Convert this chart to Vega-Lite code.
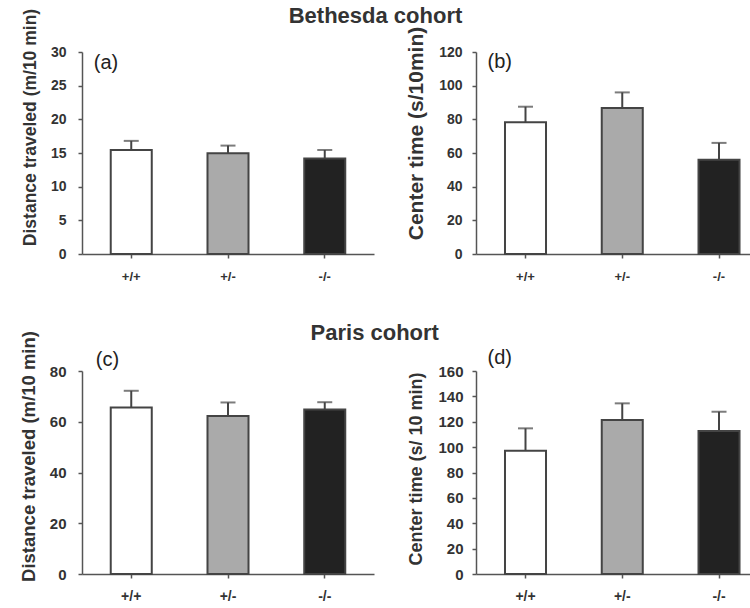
{
  "$schema": "https://vega.github.io/schema/vega-lite/v6.json",
  "datasets": {
    "bars": [
      {"panel": "a", "label": "(a)", "genotype": "+/+", "mean": 15.45, "upper": 16.8},
      {"panel": "a", "label": "(a)", "genotype": "+/-", "mean": 14.95, "upper": 16.1},
      {"panel": "a", "label": "(a)", "genotype": "-/-", "mean": 14.2, "upper": 15.45},
      {"panel": "b", "label": "(b)", "genotype": "+/+", "mean": 78.2, "upper": 87.5},
      {"panel": "b", "label": "(b)", "genotype": "+/-", "mean": 86.7, "upper": 96},
      {"panel": "b", "label": "(b)", "genotype": "-/-", "mean": 56, "upper": 66},
      {"panel": "c", "label": "(c)", "genotype": "+/+", "mean": 65.6, "upper": 72.2},
      {"panel": "c", "label": "(c)", "genotype": "+/-", "mean": 62.3, "upper": 67.6},
      {"panel": "c", "label": "(c)", "genotype": "-/-", "mean": 64.8, "upper": 67.7},
      {"panel": "d", "label": "(d)", "genotype": "+/+", "mean": 97.2, "upper": 114.8},
      {"panel": "d", "label": "(d)", "genotype": "+/-", "mean": 121.4, "upper": 134.5},
      {"panel": "d", "label": "(d)", "genotype": "-/-", "mean": 112.7, "upper": 127.9}
    ]
  },
  "autosize": {"type": "pad"},
  "padding": {"left": 19, "top": 5, "right": 0, "bottom": 0},
  "spacing": 38,
  "vconcat": [
    {
      "title": {"text": "Bethesda cohort", "offset": -20, "dx": -12},
      "bounds": "flush",
      "spacing": 102,
      "hconcat": [
        {
          "width": 292, "height": 202,
          "data": {"name": "bars"},
          "transform": [{"filter": "datum.panel == 'a'"}],
          "encoding": {
            "x": {"field": "genotype", "type": "nominal", "sort": ["+/+", "+/-", "-/-"],
              "scale": {"paddingInner": 0.576, "paddingOuter": 0.297, "align": 0.5},
              "axis": {"title": null, "labelAngle": 0, "labelFontSize": 13, "labelPadding": 12}}
          },
          "layer": [
            {"mark": {"type": "bar", "stroke": "#444444", "strokeWidth": 2},
             "encoding": {
               "y": {"field": "mean", "type": "quantitative", "scale": {"domain": [0, 30]},
                 "axis": {"title": "Distance traveled (m/10 min)", "values": [0, 5, 10, 15, 20, 25, 30], "titleFontSize": 17.5, "titleX": -52, "titleY": 75, "labelPadding": 12}},
               "fill": {"field": "genotype", "type": "nominal", "scale": {"domain": ["+/+", "+/-", "-/-"], "range": ["#ffffff", "#aaaaaa", "#222222"]}, "legend": null}
             }},
            {"mark": {"type": "rule", "color": "#444444", "strokeWidth": 2},
             "encoding": {"y": {"field": "mean", "type": "quantitative",
                 "axis": {"title": "Distance traveled (m/10 min)", "values": [0, 5, 10, 15, 20, 25, 30], "titleFontSize": 17.5, "titleX": -52, "titleY": 75, "labelPadding": 12}}, "y2": {"field": "upper"}}},
            {"mark": {"type": "tick", "color": "#444444", "size": 15, "thickness": 2},
             "encoding": {"y": {"field": "upper", "type": "quantitative",
                 "axis": {"title": "Distance traveled (m/10 min)", "values": [0, 5, 10, 15, 20, 25, 30], "titleFontSize": 17.5, "titleX": -52, "titleY": 75, "labelPadding": 12}}}},
            {"transform": [{"filter": "datum.genotype == '+/+'"}],
             "mark": {"type": "text", "align": "left", "baseline": "middle", "dx": -37.5, "fontSize": 20, "font": "Liberation Sans", "color": "#222222"},
             "encoding": {"y": {"datum": 28.4, "type": "quantitative",
                 "axis": {"title": "Distance traveled (m/10 min)", "values": [0, 5, 10, 15, 20, 25, 30], "titleFontSize": 17.5, "titleX": -52, "titleY": 75, "labelPadding": 12}}, "text": {"field": "label"}}}
          ]
        },
        {
          "width": 278, "height": 202,
          "data": {"name": "bars"},
          "transform": [{"filter": "datum.panel == 'b'"}],
          "encoding": {
            "x": {"field": "genotype", "type": "nominal", "sort": ["+/+", "+/-", "-/-"],
              "scale": {"paddingInner": 0.576, "paddingOuter": 0.2246, "align": 0.667},
              "axis": {"title": null, "labelAngle": 0, "labelFontSize": 13, "labelPadding": 12}}
          },
          "layer": [
            {"mark": {"type": "bar", "stroke": "#444444", "strokeWidth": 2},
             "encoding": {
               "y": {"field": "mean", "type": "quantitative", "scale": {"domain": [0, 120]},
                 "axis": {"title": "Center time (s/10min)", "values": [0, 20, 40, 60, 80, 100, 120], "titleFontSize": 21, "titleX": -60, "titleY": 81, "labelPadding": 10}},
               "fill": {"field": "genotype", "type": "nominal", "scale": {"domain": ["+/+", "+/-", "-/-"], "range": ["#ffffff", "#aaaaaa", "#222222"]}, "legend": null}
             }},
            {"mark": {"type": "rule", "color": "#444444", "strokeWidth": 2},
             "encoding": {"y": {"field": "mean", "type": "quantitative",
                 "axis": {"title": "Center time (s/10min)", "values": [0, 20, 40, 60, 80, 100, 120], "titleFontSize": 21, "titleX": -60, "titleY": 81, "labelPadding": 10}}, "y2": {"field": "upper"}}},
            {"mark": {"type": "tick", "color": "#444444", "size": 15, "thickness": 2},
             "encoding": {"y": {"field": "upper", "type": "quantitative",
                 "axis": {"title": "Center time (s/10min)", "values": [0, 20, 40, 60, 80, 100, 120], "titleFontSize": 21, "titleX": -60, "titleY": 81, "labelPadding": 10}}}},
            {"transform": [{"filter": "datum.genotype == '+/+'"}],
             "mark": {"type": "text", "align": "left", "baseline": "middle", "dx": -38, "fontSize": 20, "font": "Liberation Sans", "color": "#222222"},
             "encoding": {"y": {"datum": 113.8, "type": "quantitative",
                 "axis": {"title": "Center time (s/10min)", "values": [0, 20, 40, 60, 80, 100, 120], "titleFontSize": 21, "titleX": -60, "titleY": 81, "labelPadding": 10}}, "text": {"field": "label"}}}
          ]
        }
      ]
    },
    {
      "title": {"text": "Paris cohort", "offset": -14, "dx": -12},
      "bounds": "flush",
      "spacing": 102,
      "hconcat": [
        {
          "width": 292, "height": 203,
          "data": {"name": "bars"},
          "transform": [{"filter": "datum.panel == 'c'"}],
          "encoding": {
            "x": {"field": "genotype", "type": "nominal", "sort": ["+/+", "+/-", "-/-"],
              "scale": {"paddingInner": 0.576, "paddingOuter": 0.297, "align": 0.5},
              "axis": {"title": null, "labelAngle": 0, "labelFontSize": 14, "labelPadding": 11}}
          },
          "layer": [
            {"mark": {"type": "bar", "stroke": "#444444", "strokeWidth": 2},
             "encoding": {
               "y": {"field": "mean", "type": "quantitative", "scale": {"domain": [0, 80]},
                 "axis": {"title": "Distance traveled (m/10 min)", "values": [0, 20, 40, 60, 80], "titleFontSize": 18.5, "titleX": -53.5, "titleY": 85, "labelFontSize": 15, "labelPadding": 12}},
               "fill": {"field": "genotype", "type": "nominal", "scale": {"domain": ["+/+", "+/-", "-/-"], "range": ["#ffffff", "#aaaaaa", "#222222"]}, "legend": null}
             }},
            {"mark": {"type": "rule", "color": "#444444", "strokeWidth": 2},
             "encoding": {"y": {"field": "mean", "type": "quantitative",
                 "axis": {"title": "Distance traveled (m/10 min)", "values": [0, 20, 40, 60, 80], "titleFontSize": 18.5, "titleX": -53.5, "titleY": 85, "labelFontSize": 15, "labelPadding": 12}}, "y2": {"field": "upper"}}},
            {"mark": {"type": "tick", "color": "#444444", "size": 15, "thickness": 2},
             "encoding": {"y": {"field": "upper", "type": "quantitative",
                 "axis": {"title": "Distance traveled (m/10 min)", "values": [0, 20, 40, 60, 80], "titleFontSize": 18.5, "titleX": -53.5, "titleY": 85, "labelFontSize": 15, "labelPadding": 12}}}},
            {"transform": [{"filter": "datum.genotype == '+/+'"}],
             "mark": {"type": "text", "align": "left", "baseline": "middle", "dx": -35.5, "fontSize": 20, "font": "Liberation Sans", "color": "#222222"},
             "encoding": {"y": {"datum": 84.3, "type": "quantitative",
                 "axis": {"title": "Distance traveled (m/10 min)", "values": [0, 20, 40, 60, 80], "titleFontSize": 18.5, "titleX": -53.5, "titleY": 85, "labelFontSize": 15, "labelPadding": 12}}, "text": {"field": "label"}}}
          ]
        },
        {
          "width": 278, "height": 203,
          "data": {"name": "bars"},
          "transform": [{"filter": "datum.panel == 'd'"}],
          "encoding": {
            "x": {"field": "genotype", "type": "nominal", "sort": ["+/+", "+/-", "-/-"],
              "scale": {"paddingInner": 0.576, "paddingOuter": 0.2246, "align": 0.667},
              "axis": {"title": null, "labelAngle": 0, "labelFontSize": 14, "labelPadding": 11}}
          },
          "layer": [
            {"mark": {"type": "bar", "stroke": "#444444", "strokeWidth": 2},
             "encoding": {
               "y": {"field": "mean", "type": "quantitative", "scale": {"domain": [0, 160]},
                 "axis": {"title": "Center time (s/ 10 min)", "values": [0, 20, 40, 60, 80, 100, 120, 140, 160], "titleFontSize": 18, "titleX": -60, "titleY": 97.5, "labelFontSize": 15, "labelPadding": 9}},
               "fill": {"field": "genotype", "type": "nominal", "scale": {"domain": ["+/+", "+/-", "-/-"], "range": ["#ffffff", "#aaaaaa", "#222222"]}, "legend": null}
             }},
            {"mark": {"type": "rule", "color": "#444444", "strokeWidth": 2},
             "encoding": {"y": {"field": "mean", "type": "quantitative",
                 "axis": {"title": "Center time (s/ 10 min)", "values": [0, 20, 40, 60, 80, 100, 120, 140, 160], "titleFontSize": 18, "titleX": -60, "titleY": 97.5, "labelFontSize": 15, "labelPadding": 9}}, "y2": {"field": "upper"}}},
            {"mark": {"type": "tick", "color": "#444444", "size": 15, "thickness": 2},
             "encoding": {"y": {"field": "upper", "type": "quantitative",
                 "axis": {"title": "Center time (s/ 10 min)", "values": [0, 20, 40, 60, 80, 100, 120, 140, 160], "titleFontSize": 18, "titleX": -60, "titleY": 97.5, "labelFontSize": 15, "labelPadding": 9}}}},
            {"transform": [{"filter": "datum.genotype == '+/+'"}],
             "mark": {"type": "text", "align": "left", "baseline": "middle", "dx": -38, "fontSize": 20, "font": "Liberation Sans", "color": "#222222"},
             "encoding": {"y": {"datum": 170.2, "type": "quantitative",
                 "axis": {"title": "Center time (s/ 10 min)", "values": [0, 20, 40, 60, 80, 100, 120, 140, 160], "titleFontSize": 18, "titleX": -60, "titleY": 97.5, "labelFontSize": 15, "labelPadding": 9}}, "text": {"field": "label"}}}
          ]
        }
      ]
    }
  ],
  "resolve": {"scale": {"fill": "independent"}},
  "config": {
    "view": {"stroke": null},
    "title": {"font": "Liberation Sans", "fontSize": 22, "fontWeight": "bold", "color": "#333333", "anchor": "middle"},
    "axis": {
      "grid": false, "labelOverlap": false,
      "labelFont": "Liberation Sans", "labelFontWeight": "bold", "labelFontSize": 14, "labelColor": "#333333",
      "titleFont": "Liberation Sans", "titleFontWeight": "bold", "titleColor": "#333333", "titleBaseline": "middle",
      "domainColor": "#555555", "domainWidth": 1.5,
      "tickColor": "#555555", "tickWidth": 1.5, "tickSize": 4
    }
  }
}
